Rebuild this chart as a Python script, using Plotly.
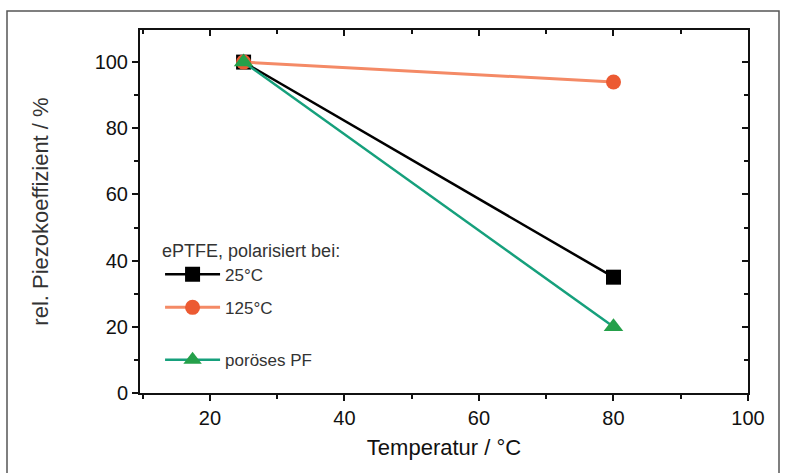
import plotly.graph_objects as go

# Relative piezo coefficient vs. temperature
temperature = [25, 80]
eptfe_25 = [100, 35]
eptfe_125 = [100, 94]
porous_pf = [100, 20]

x_ticks = [20, 40, 60, 80, 100]
y_ticks = [0, 20, 40, 60, 80, 100]

FONT = "Liberation Sans, Arial, sans-serif"

fig = go.Figure()

fig.add_trace(go.Scatter(
    x=temperature, y=eptfe_25, name="25°C", mode="lines+markers",
    line=dict(color="#000000", width=2.5),
    marker=dict(symbol="square", size=15, color="#000000"),
    legend="legend", legendgroup="a",
))
fig.add_trace(go.Scatter(
    x=temperature, y=eptfe_125, name="125°C", mode="lines+markers",
    line=dict(color="#f48a66", width=3),
    marker=dict(symbol="circle", size=15, color="#ec5a32"),
    legend="legend", legendgroup="b",
))
fig.add_trace(go.Scatter(
    x=temperature, y=porous_pf, name="poröses PF", mode="lines+markers",
    line=dict(color="#16a07c", width=2.5),
    marker=dict(symbol="triangle-up", size=17, color="#25a04a"),
    legend="legend2",
))

axis_common = dict(
    showline=True, linecolor="#111111", linewidth=2,
    showgrid=False, zeroline=False,
    tickcolor="#111111", tickwidth=1.5,
    tickfont=dict(family=FONT, size=20, color="#111111"),
)

fig.update_layout(
    width=786, height=473,
    margin=dict(l=140, r=38, t=30, b=80),
    paper_bgcolor="white", plot_bgcolor="white",
    font=dict(family=FONT, color="#222222"),
    xaxis=dict(
        **axis_common, range=[9.6, 100], tickvals=x_ticks,
        ticks="outside", ticklen=6,
        minor=dict(ticks="outside", ticklen=4, dtick=10, tick0=0, tickcolor="#111111"),
        title=dict(text="Temperatur / °C", font=dict(family=FONT, size=22, color="#111111"), standoff=12),
    ),
    yaxis=dict(
        **axis_common, range=[0, 109.7], tickvals=y_ticks,
        ticks="outside", ticklen=6,
        minor=dict(ticks="outside", ticklen=4, dtick=10, tick0=0, tickcolor="#111111"),
        title=dict(text="rel. Piezokoeffizient / %", font=dict(family=FONT, size=22, color="#333333"), standoff=40),
    ),
    # mirrored frame with inward ticks on top and right
    xaxis2=dict(
        overlaying="x", side="top", matches="x", range=[9.6, 100], tickvals=x_ticks,
        showline=True, linecolor="#111111", linewidth=2, showgrid=False, zeroline=False,
        ticks="inside", ticklen=6, tickcolor="#111111", tickwidth=1.5, showticklabels=False,
        minor=dict(ticks="inside", ticklen=4, dtick=10, tick0=0, tickcolor="#111111"),
    ),
    yaxis2=dict(
        overlaying="y", side="right", range=[0, 109.7], tickvals=y_ticks,
        showline=True, linecolor="#111111", linewidth=2, showgrid=False, zeroline=False,
        ticks="inside", ticklen=6, tickcolor="#111111", tickwidth=1.5, showticklabels=False,
        minor=dict(ticks="inside", ticklen=4, dtick=10, tick0=0, tickcolor="#111111"),
    ),
    legend=dict(
        title=dict(text="ePTFE, polarisiert bei:", font=dict(family=FONT, size=18, color="#333333")),
        x=0.033, y=0.44, xanchor="left", yanchor="top",
        bgcolor="rgba(0,0,0,0)", traceorder="grouped", tracegroupgap=8,
        itemwidth=55,
        font=dict(family=FONT, size=17, color="#333333"),
    ),
    legend2=dict(
        x=0.033, y=0.14, xanchor="left", yanchor="top",
        bgcolor="rgba(0,0,0,0)", itemwidth=55,
        font=dict(family=FONT, size=17, color="#333333"),
    ),
    shapes=[
        # outer frame of the figure
        dict(type="rect", xref="paper", yref="paper",
             x0=(7 - 140) / 608, x1=(779 - 140) / 608,
             y0=(393 - 490) / 363, y1=(393 - 11) / 363,
             line=dict(color="#555555", width=1.5), layer="below"),
    ],
)

# invisible trace to anchor the mirrored axes
fig.add_trace(go.Scatter(x=[None], y=[None], xaxis="x2", yaxis="y2", showlegend=False, hoverinfo="skip"))

fig.write_html("out.html")
